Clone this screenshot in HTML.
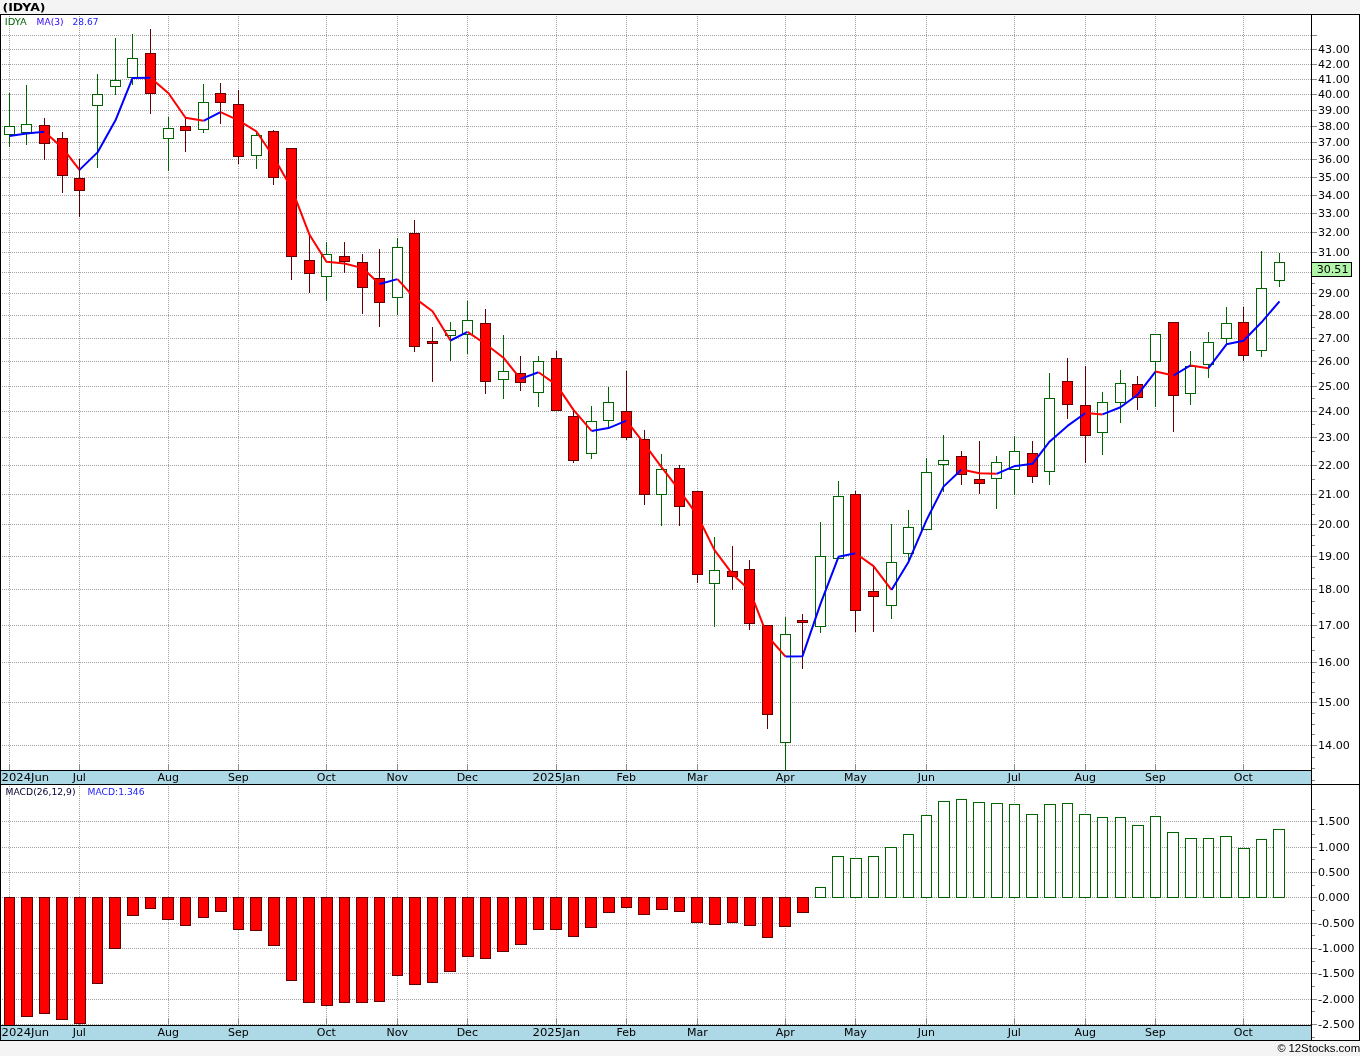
<!DOCTYPE html>
<html lang="en"><head><meta charset="utf-8"><title>(IDYA)</title>
<style>html,body{margin:0;padding:0;background:#f4f4f4;width:1360px;height:1056px;overflow:hidden}</style></head>
<body>
<svg width="1360" height="1056" viewBox="0 0 1360 1056" style="position:absolute;left:0;top:0;display:block">
<rect x="0" y="0" width="1360" height="1056" fill="#f4f4f4"/>
<rect x="0" y="14" width="1360" height="1027" fill="#ffffff"/>
<rect x="0" y="770" width="1312" height="15" fill="#add8e6"/>
<rect x="0" y="1025" width="1312" height="16" fill="#add8e6"/>
<g shape-rendering="crispEdges" fill="none" stroke="#a0a0a0" stroke-width="1" stroke-dasharray="1 1">
<path d="M2 745.5H1311"/>
<path d="M2 702.5H1311"/>
<path d="M2 662.5H1311"/>
<path d="M2 625.5H1311"/>
<path d="M2 589.5H1311"/>
<path d="M2 556.5H1311"/>
<path d="M2 524.5H1311"/>
<path d="M2 494.5H1311"/>
<path d="M2 465.5H1311"/>
<path d="M2 437.5H1311"/>
<path d="M2 411.5H1311"/>
<path d="M2 386.5H1311"/>
<path d="M2 361.5H1311"/>
<path d="M2 338.5H1311"/>
<path d="M2 315.5H1311"/>
<path d="M2 293.5H1311"/>
<path d="M2 272.5H1311"/>
<path d="M2 252.5H1311"/>
<path d="M2 232.5H1311"/>
<path d="M2 213.5H1311"/>
<path d="M2 195.5H1311"/>
<path d="M2 177.5H1311"/>
<path d="M2 159.5H1311"/>
<path d="M2 142.5H1311"/>
<path d="M2 126.5H1311"/>
<path d="M2 110.5H1311"/>
<path d="M2 94.5H1311"/>
<path d="M2 79.5H1311"/>
<path d="M2 64.5H1311"/>
<path d="M2 49.5H1311"/>
<path d="M2 35.5H1311"/>
<path d="M2 1024.5H1311"/>
<path d="M2 999.5H1311"/>
<path d="M2 973.5H1311"/>
<path d="M2 948.5H1311"/>
<path d="M2 923.5H1311"/>
<path d="M2 897.5H1311"/>
<path d="M2 872.5H1311"/>
<path d="M2 847.5H1311"/>
<path d="M2 821.5H1311"/>
<path d="M9.5 16V770"/>
<path d="M9.5 786V1025"/>
<path d="M79.5 16V770"/>
<path d="M79.5 786V1025"/>
<path d="M168.5 16V770"/>
<path d="M168.5 786V1025"/>
<path d="M238.5 16V770"/>
<path d="M238.5 786V1025"/>
<path d="M326.5 16V770"/>
<path d="M326.5 786V1025"/>
<path d="M397.5 16V770"/>
<path d="M397.5 786V1025"/>
<path d="M467.5 16V770"/>
<path d="M467.5 786V1025"/>
<path d="M556.5 16V770"/>
<path d="M556.5 786V1025"/>
<path d="M626.5 16V770"/>
<path d="M626.5 786V1025"/>
<path d="M697.5 16V770"/>
<path d="M697.5 786V1025"/>
<path d="M785.5 16V770"/>
<path d="M785.5 786V1025"/>
<path d="M855.5 16V770"/>
<path d="M855.5 786V1025"/>
<path d="M926.5 16V770"/>
<path d="M926.5 786V1025"/>
<path d="M1014.5 16V770"/>
<path d="M1014.5 786V1025"/>
<path d="M1085.5 16V770"/>
<path d="M1085.5 786V1025"/>
<path d="M1155.5 16V770"/>
<path d="M1155.5 786V1025"/>
<path d="M1243.5 16V770"/>
<path d="M1243.5 786V1025"/>
</g>
<g shape-rendering="crispEdges" fill="none" stroke="#8a8a8a" stroke-width="1">
<path d="M9.5 764V770M9.5 1019V1025"/>
<path d="M79.5 764V770M79.5 1019V1025"/>
<path d="M168.5 764V770M168.5 1019V1025"/>
<path d="M238.5 764V770M238.5 1019V1025"/>
<path d="M326.5 764V770M326.5 1019V1025"/>
<path d="M397.5 764V770M397.5 1019V1025"/>
<path d="M467.5 764V770M467.5 1019V1025"/>
<path d="M556.5 764V770M556.5 1019V1025"/>
<path d="M626.5 764V770M626.5 1019V1025"/>
<path d="M697.5 764V770M697.5 1019V1025"/>
<path d="M785.5 764V770M785.5 1019V1025"/>
<path d="M855.5 764V770M855.5 1019V1025"/>
<path d="M926.5 764V770M926.5 1019V1025"/>
<path d="M1014.5 764V770M1014.5 1019V1025"/>
<path d="M1085.5 764V770M1085.5 1019V1025"/>
<path d="M1155.5 764V770M1155.5 1019V1025"/>
<path d="M1243.5 764V770M1243.5 1019V1025"/>
<path d="M1312 745.5H1317"/>
<path d="M1312 702.5H1317"/>
<path d="M1312 662.5H1317"/>
<path d="M1312 625.5H1317"/>
<path d="M1312 589.5H1317"/>
<path d="M1312 556.5H1317"/>
<path d="M1312 524.5H1317"/>
<path d="M1312 494.5H1317"/>
<path d="M1312 465.5H1317"/>
<path d="M1312 437.5H1317"/>
<path d="M1312 411.5H1317"/>
<path d="M1312 386.5H1317"/>
<path d="M1312 361.5H1317"/>
<path d="M1312 338.5H1317"/>
<path d="M1312 315.5H1317"/>
<path d="M1312 293.5H1317"/>
<path d="M1312 272.5H1317"/>
<path d="M1312 252.5H1317"/>
<path d="M1312 232.5H1317"/>
<path d="M1312 213.5H1317"/>
<path d="M1312 195.5H1317"/>
<path d="M1312 177.5H1317"/>
<path d="M1312 159.5H1317"/>
<path d="M1312 142.5H1317"/>
<path d="M1312 126.5H1317"/>
<path d="M1312 110.5H1317"/>
<path d="M1312 94.5H1317"/>
<path d="M1312 79.5H1317"/>
<path d="M1312 64.5H1317"/>
<path d="M1312 49.5H1317"/>
<path d="M1312 35.5H1317"/>
<path d="M1312 479.5H1315"/>
<path d="M1312 451.5H1315"/>
<path d="M1312 424.5H1315"/>
<path d="M1312 398.5H1315"/>
<path d="M1312 373.5H1315"/>
<path d="M1312 350.5H1315"/>
<path d="M1312 327.5H1315"/>
<path d="M1312 305.5H1315"/>
<path d="M1312 283.5H1315"/>
<path d="M1312 650.5H1315"/>
<path d="M1312 637.5H1315"/>
<path d="M1312 613.5H1315"/>
<path d="M1312 601.5H1315"/>
<path d="M1312 578.5H1315"/>
<path d="M1312 567.5H1315"/>
<path d="M1312 545.5H1315"/>
<path d="M1312 535.5H1315"/>
<path d="M1312 514.5H1315"/>
<path d="M1312 504.5H1315"/>
<path d="M1312 780.5H1315"/>
<path d="M1312 768.5H1315"/>
<path d="M1312 757.5H1315"/>
<path d="M1312 734.5H1315"/>
<path d="M1312 724.5H1315"/>
<path d="M1312 713.5H1315"/>
<path d="M1312 692.5H1315"/>
<path d="M1312 682.5H1315"/>
<path d="M1312 672.5H1315"/>
<path d="M1312 1024.5H1317"/>
<path d="M1312 999.5H1317"/>
<path d="M1312 973.5H1317"/>
<path d="M1312 948.5H1317"/>
<path d="M1312 923.5H1317"/>
<path d="M1312 897.5H1317"/>
<path d="M1312 872.5H1317"/>
<path d="M1312 847.5H1317"/>
<path d="M1312 821.5H1317"/>
<path d="M1312 1037.5H1315"/>
<path d="M1312 1011.5H1315"/>
<path d="M1312 986.5H1315"/>
<path d="M1312 961.5H1315"/>
<path d="M1312 935.5H1315"/>
<path d="M1312 910.5H1315"/>
<path d="M1312 885.5H1315"/>
<path d="M1312 859.5H1315"/>
<path d="M1312 834.5H1315"/>
<path d="M1312 809.5H1315"/>
</g>
<g shape-rendering="crispEdges" stroke-width="1">
<path d="M9.5 93V147" stroke="#006400" fill="none"/>
<rect x="4.5" y="126.5" width="10" height="8" fill="#ffffff" stroke="#006400"/>
<path d="M26.5 85V145" stroke="#006400" fill="none"/>
<rect x="21.5" y="124.5" width="10" height="8" fill="#ffffff" stroke="#006400"/>
<path d="M44.5 118V160" stroke="#600000" fill="none"/>
<rect x="39.5" y="125.5" width="10" height="18" fill="#ff0000" stroke="#600000"/>
<path d="M62.5 132V193" stroke="#600000" fill="none"/>
<rect x="57.5" y="138.5" width="10" height="37" fill="#ff0000" stroke="#600000"/>
<path d="M79.5 159V217" stroke="#600000" fill="none"/>
<rect x="74.5" y="178.5" width="10" height="12" fill="#ff0000" stroke="#600000"/>
<path d="M97.5 74V168" stroke="#006400" fill="none"/>
<rect x="92.5" y="94.5" width="10" height="11" fill="#ffffff" stroke="#006400"/>
<path d="M115.5 38V95" stroke="#006400" fill="none"/>
<rect x="110.5" y="80.5" width="10" height="6" fill="#ffffff" stroke="#006400"/>
<path d="M132.5 34V85" stroke="#006400" fill="none"/>
<rect x="127.5" y="58.5" width="10" height="19" fill="#ffffff" stroke="#006400"/>
<path d="M150.5 29V114" stroke="#600000" fill="none"/>
<rect x="145.5" y="53.5" width="10" height="40" fill="#ff0000" stroke="#600000"/>
<path d="M168.5 117V171" stroke="#006400" fill="none"/>
<rect x="163.5" y="128.5" width="10" height="10" fill="#ffffff" stroke="#006400"/>
<path d="M185.5 117V152" stroke="#600000" fill="none"/>
<rect x="180.5" y="126.5" width="10" height="4" fill="#ff0000" stroke="#600000"/>
<path d="M203.5 84V133" stroke="#006400" fill="none"/>
<rect x="198.5" y="102.5" width="10" height="27" fill="#ffffff" stroke="#006400"/>
<path d="M220.5 83V124" stroke="#600000" fill="none"/>
<rect x="215.5" y="93.5" width="10" height="9" fill="#ff0000" stroke="#600000"/>
<path d="M238.5 90V164" stroke="#600000" fill="none"/>
<rect x="233.5" y="104.5" width="10" height="52" fill="#ff0000" stroke="#600000"/>
<path d="M256.5 133V169" stroke="#006400" fill="none"/>
<rect x="251.5" y="135.5" width="10" height="20" fill="#ffffff" stroke="#006400"/>
<path d="M273.5 130V185" stroke="#600000" fill="none"/>
<rect x="268.5" y="131.5" width="10" height="46" fill="#ff0000" stroke="#600000"/>
<path d="M291.5 148V280" stroke="#600000" fill="none"/>
<rect x="286.5" y="148.5" width="10" height="108" fill="#ff0000" stroke="#600000"/>
<path d="M309.5 236V293" stroke="#600000" fill="none"/>
<rect x="304.5" y="260.5" width="10" height="13" fill="#ff0000" stroke="#600000"/>
<path d="M326.5 242V301" stroke="#006400" fill="none"/>
<rect x="321.5" y="254.5" width="10" height="22" fill="#ffffff" stroke="#006400"/>
<path d="M344.5 242V273" stroke="#600000" fill="none"/>
<rect x="339.5" y="256.5" width="10" height="5" fill="#ff0000" stroke="#600000"/>
<path d="M362.5 254V314" stroke="#600000" fill="none"/>
<rect x="357.5" y="262.5" width="10" height="25" fill="#ff0000" stroke="#600000"/>
<path d="M379.5 249V327" stroke="#600000" fill="none"/>
<rect x="374.5" y="278.5" width="10" height="24" fill="#ff0000" stroke="#600000"/>
<path d="M397.5 238V315" stroke="#006400" fill="none"/>
<rect x="392.5" y="247.5" width="10" height="50" fill="#ffffff" stroke="#006400"/>
<path d="M414.5 220V352" stroke="#600000" fill="none"/>
<rect x="409.5" y="233.5" width="10" height="113" fill="#ff0000" stroke="#600000"/>
<path d="M432.5 327V382" stroke="#600000" fill="none"/>
<rect x="427.5" y="341.5" width="10" height="2" fill="#ff0000" stroke="#600000"/>
<path d="M450.5 322V361" stroke="#006400" fill="none"/>
<rect x="445.5" y="330.5" width="10" height="5" fill="#ffffff" stroke="#006400"/>
<path d="M467.5 301V354" stroke="#006400" fill="none"/>
<rect x="462.5" y="320.5" width="10" height="14" fill="#ffffff" stroke="#006400"/>
<path d="M485.5 309V394" stroke="#600000" fill="none"/>
<rect x="480.5" y="323.5" width="10" height="58" fill="#ff0000" stroke="#600000"/>
<path d="M503.5 335V399" stroke="#006400" fill="none"/>
<rect x="498.5" y="371.5" width="10" height="8" fill="#ffffff" stroke="#006400"/>
<path d="M520.5 356V391" stroke="#600000" fill="none"/>
<rect x="515.5" y="373.5" width="10" height="9" fill="#ff0000" stroke="#600000"/>
<path d="M538.5 356V407" stroke="#006400" fill="none"/>
<rect x="533.5" y="361.5" width="10" height="31" fill="#ffffff" stroke="#006400"/>
<path d="M556.5 351V411" stroke="#600000" fill="none"/>
<rect x="551.5" y="358.5" width="10" height="52" fill="#ff0000" stroke="#600000"/>
<path d="M573.5 411V463" stroke="#600000" fill="none"/>
<rect x="568.5" y="416.5" width="10" height="44" fill="#ff0000" stroke="#600000"/>
<path d="M591.5 406V459" stroke="#006400" fill="none"/>
<rect x="586.5" y="421.5" width="10" height="32" fill="#ffffff" stroke="#006400"/>
<path d="M608.5 387V428" stroke="#006400" fill="none"/>
<rect x="603.5" y="402.5" width="10" height="18" fill="#ffffff" stroke="#006400"/>
<path d="M626.5 371V440" stroke="#600000" fill="none"/>
<rect x="621.5" y="411.5" width="10" height="26" fill="#ff0000" stroke="#600000"/>
<path d="M644.5 430V505" stroke="#600000" fill="none"/>
<rect x="639.5" y="439.5" width="10" height="55" fill="#ff0000" stroke="#600000"/>
<path d="M661.5 454V526" stroke="#006400" fill="none"/>
<rect x="656.5" y="469.5" width="10" height="25" fill="#ffffff" stroke="#006400"/>
<path d="M679.5 465V526" stroke="#600000" fill="none"/>
<rect x="674.5" y="468.5" width="10" height="38" fill="#ff0000" stroke="#600000"/>
<path d="M697.5 491V583" stroke="#600000" fill="none"/>
<rect x="692.5" y="491.5" width="10" height="83" fill="#ff0000" stroke="#600000"/>
<path d="M714.5 537V627" stroke="#006400" fill="none"/>
<rect x="709.5" y="570.5" width="10" height="13" fill="#ffffff" stroke="#006400"/>
<path d="M732.5 546V590" stroke="#600000" fill="none"/>
<rect x="727.5" y="571.5" width="10" height="5" fill="#ff0000" stroke="#600000"/>
<path d="M749.5 560V630" stroke="#600000" fill="none"/>
<rect x="744.5" y="569.5" width="10" height="54" fill="#ff0000" stroke="#600000"/>
<path d="M767.5 625V729" stroke="#600000" fill="none"/>
<rect x="762.5" y="625.5" width="10" height="89" fill="#ff0000" stroke="#600000"/>
<path d="M785.5 617V770" stroke="#006400" fill="none"/>
<rect x="780.5" y="634.5" width="10" height="108" fill="#ffffff" stroke="#006400"/>
<path d="M802.5 614V669" stroke="#600000" fill="none"/>
<rect x="797.5" y="620.5" width="10" height="2" fill="#ff0000" stroke="#600000"/>
<path d="M820.5 522V633" stroke="#006400" fill="none"/>
<rect x="815.5" y="556.5" width="10" height="70" fill="#ffffff" stroke="#006400"/>
<path d="M838.5 481V559" stroke="#006400" fill="none"/>
<rect x="833.5" y="496.5" width="10" height="62" fill="#ffffff" stroke="#006400"/>
<path d="M855.5 491V632" stroke="#600000" fill="none"/>
<rect x="850.5" y="494.5" width="10" height="116" fill="#ff0000" stroke="#600000"/>
<path d="M873.5 566V632" stroke="#600000" fill="none"/>
<rect x="868.5" y="591.5" width="10" height="5" fill="#ff0000" stroke="#600000"/>
<path d="M891.5 524V619" stroke="#006400" fill="none"/>
<rect x="886.5" y="562.5" width="10" height="43" fill="#ffffff" stroke="#006400"/>
<path d="M908.5 510V562" stroke="#006400" fill="none"/>
<rect x="903.5" y="527.5" width="10" height="26" fill="#ffffff" stroke="#006400"/>
<path d="M926.5 458V530" stroke="#006400" fill="none"/>
<rect x="921.5" y="472.5" width="10" height="57" fill="#ffffff" stroke="#006400"/>
<path d="M943.5 435V492" stroke="#006400" fill="none"/>
<rect x="938.5" y="460.5" width="10" height="4" fill="#ffffff" stroke="#006400"/>
<path d="M961.5 451V485" stroke="#600000" fill="none"/>
<rect x="956.5" y="456.5" width="10" height="18" fill="#ff0000" stroke="#600000"/>
<path d="M979.5 441V494" stroke="#600000" fill="none"/>
<rect x="974.5" y="479.5" width="10" height="4" fill="#ff0000" stroke="#600000"/>
<path d="M996.5 456V509" stroke="#006400" fill="none"/>
<rect x="991.5" y="462.5" width="10" height="16" fill="#ffffff" stroke="#006400"/>
<path d="M1014.5 436V495" stroke="#006400" fill="none"/>
<rect x="1009.5" y="451.5" width="10" height="18" fill="#ffffff" stroke="#006400"/>
<path d="M1032.5 441V483" stroke="#600000" fill="none"/>
<rect x="1027.5" y="453.5" width="10" height="23" fill="#ff0000" stroke="#600000"/>
<path d="M1049.5 373V485" stroke="#006400" fill="none"/>
<rect x="1044.5" y="398.5" width="10" height="73" fill="#ffffff" stroke="#006400"/>
<path d="M1067.5 358V419" stroke="#600000" fill="none"/>
<rect x="1062.5" y="381.5" width="10" height="23" fill="#ff0000" stroke="#600000"/>
<path d="M1085.5 366V463" stroke="#600000" fill="none"/>
<rect x="1080.5" y="405.5" width="10" height="30" fill="#ff0000" stroke="#600000"/>
<path d="M1102.5 392V455" stroke="#006400" fill="none"/>
<rect x="1097.5" y="402.5" width="10" height="30" fill="#ffffff" stroke="#006400"/>
<path d="M1120.5 370V423" stroke="#006400" fill="none"/>
<rect x="1115.5" y="383.5" width="10" height="19" fill="#ffffff" stroke="#006400"/>
<path d="M1137.5 376V410" stroke="#600000" fill="none"/>
<rect x="1132.5" y="384.5" width="10" height="13" fill="#ff0000" stroke="#600000"/>
<path d="M1155.5 334V407" stroke="#006400" fill="none"/>
<rect x="1150.5" y="334.5" width="10" height="27" fill="#ffffff" stroke="#006400"/>
<path d="M1173.5 322V432" stroke="#600000" fill="none"/>
<rect x="1168.5" y="322.5" width="10" height="73" fill="#ff0000" stroke="#600000"/>
<path d="M1190.5 351V405" stroke="#006400" fill="none"/>
<rect x="1185.5" y="366.5" width="10" height="27" fill="#ffffff" stroke="#006400"/>
<path d="M1208.5 332V378" stroke="#006400" fill="none"/>
<rect x="1203.5" y="342.5" width="10" height="22" fill="#ffffff" stroke="#006400"/>
<path d="M1226.5 307V344" stroke="#006400" fill="none"/>
<rect x="1221.5" y="323.5" width="10" height="15" fill="#ffffff" stroke="#006400"/>
<path d="M1243.5 307V361" stroke="#600000" fill="none"/>
<rect x="1238.5" y="322.5" width="10" height="33" fill="#ff0000" stroke="#600000"/>
<path d="M1261.5 251V357" stroke="#006400" fill="none"/>
<rect x="1256.5" y="288.5" width="10" height="62" fill="#ffffff" stroke="#006400"/>
<path d="M1279.5 253V287" stroke="#006400" fill="none"/>
<rect x="1274.5" y="262.5" width="10" height="18" fill="#ffffff" stroke="#006400"/>
</g>
<g shape-rendering="crispEdges" stroke-width="1">
<rect x="4.5" y="897.5" width="10" height="128.0" fill="#ff0000" stroke="#600000"/>
<rect x="21.5" y="897.5" width="11" height="119.0" fill="#ff0000" stroke="#600000"/>
<rect x="39.5" y="897.5" width="10" height="116.0" fill="#ff0000" stroke="#600000"/>
<rect x="56.5" y="897.5" width="11" height="122.0" fill="#ff0000" stroke="#600000"/>
<rect x="74.5" y="897.5" width="11" height="126.0" fill="#ff0000" stroke="#600000"/>
<rect x="92.5" y="897.5" width="10" height="86.0" fill="#ff0000" stroke="#600000"/>
<rect x="109.5" y="897.5" width="11" height="51.0" fill="#ff0000" stroke="#600000"/>
<rect x="127.5" y="897.5" width="11" height="18.0" fill="#ff0000" stroke="#600000"/>
<rect x="145.5" y="897.5" width="10" height="11.0" fill="#ff0000" stroke="#600000"/>
<rect x="162.5" y="897.5" width="11" height="22.0" fill="#ff0000" stroke="#600000"/>
<rect x="180.5" y="897.5" width="10" height="28.0" fill="#ff0000" stroke="#600000"/>
<rect x="198.5" y="897.5" width="10" height="20.0" fill="#ff0000" stroke="#600000"/>
<rect x="215.5" y="897.5" width="11" height="14.0" fill="#ff0000" stroke="#600000"/>
<rect x="233.5" y="897.5" width="10" height="32.0" fill="#ff0000" stroke="#600000"/>
<rect x="250.5" y="897.5" width="11" height="33.0" fill="#ff0000" stroke="#600000"/>
<rect x="268.5" y="897.5" width="11" height="48.0" fill="#ff0000" stroke="#600000"/>
<rect x="286.5" y="897.5" width="10" height="83.0" fill="#ff0000" stroke="#600000"/>
<rect x="303.5" y="897.5" width="11" height="105.0" fill="#ff0000" stroke="#600000"/>
<rect x="321.5" y="897.5" width="11" height="108.0" fill="#ff0000" stroke="#600000"/>
<rect x="339.5" y="897.5" width="10" height="105.0" fill="#ff0000" stroke="#600000"/>
<rect x="356.5" y="897.5" width="11" height="105.0" fill="#ff0000" stroke="#600000"/>
<rect x="374.5" y="897.5" width="10" height="104.0" fill="#ff0000" stroke="#600000"/>
<rect x="392.5" y="897.5" width="10" height="78.0" fill="#ff0000" stroke="#600000"/>
<rect x="409.5" y="897.5" width="11" height="87.0" fill="#ff0000" stroke="#600000"/>
<rect x="427.5" y="897.5" width="10" height="85.0" fill="#ff0000" stroke="#600000"/>
<rect x="444.5" y="897.5" width="11" height="74.0" fill="#ff0000" stroke="#600000"/>
<rect x="462.5" y="897.5" width="11" height="59.0" fill="#ff0000" stroke="#600000"/>
<rect x="480.5" y="897.5" width="10" height="61.0" fill="#ff0000" stroke="#600000"/>
<rect x="497.5" y="897.5" width="11" height="54.0" fill="#ff0000" stroke="#600000"/>
<rect x="515.5" y="897.5" width="11" height="47.0" fill="#ff0000" stroke="#600000"/>
<rect x="533.5" y="897.5" width="10" height="32.0" fill="#ff0000" stroke="#600000"/>
<rect x="550.5" y="897.5" width="11" height="32.0" fill="#ff0000" stroke="#600000"/>
<rect x="568.5" y="897.5" width="10" height="39.0" fill="#ff0000" stroke="#600000"/>
<rect x="585.5" y="897.5" width="11" height="30.0" fill="#ff0000" stroke="#600000"/>
<rect x="603.5" y="897.5" width="11" height="15.0" fill="#ff0000" stroke="#600000"/>
<rect x="621.5" y="897.5" width="10" height="10.0" fill="#ff0000" stroke="#600000"/>
<rect x="638.5" y="897.5" width="11" height="17.0" fill="#ff0000" stroke="#600000"/>
<rect x="656.5" y="897.5" width="11" height="12.0" fill="#ff0000" stroke="#600000"/>
<rect x="674.5" y="897.5" width="10" height="14.0" fill="#ff0000" stroke="#600000"/>
<rect x="691.5" y="897.5" width="11" height="25.0" fill="#ff0000" stroke="#600000"/>
<rect x="709.5" y="897.5" width="11" height="27.0" fill="#ff0000" stroke="#600000"/>
<rect x="727.5" y="897.5" width="10" height="25.0" fill="#ff0000" stroke="#600000"/>
<rect x="744.5" y="897.5" width="11" height="28.0" fill="#ff0000" stroke="#600000"/>
<rect x="762.5" y="897.5" width="10" height="40.0" fill="#ff0000" stroke="#600000"/>
<rect x="779.5" y="897.5" width="11" height="29.0" fill="#ff0000" stroke="#600000"/>
<rect x="797.5" y="897.5" width="11" height="15.0" fill="#ff0000" stroke="#600000"/>
<rect x="815.5" y="887.5" width="10" height="10.0" fill="#ffffff" stroke="#006400"/>
<rect x="832.5" y="856.5" width="11" height="41.0" fill="#ffffff" stroke="#006400"/>
<rect x="850.5" y="858.5" width="11" height="39.0" fill="#ffffff" stroke="#006400"/>
<rect x="868.5" y="856.5" width="10" height="41.0" fill="#ffffff" stroke="#006400"/>
<rect x="885.5" y="847.5" width="11" height="50.0" fill="#ffffff" stroke="#006400"/>
<rect x="903.5" y="834.5" width="10" height="63.0" fill="#ffffff" stroke="#006400"/>
<rect x="921.5" y="815.5" width="10" height="82.0" fill="#ffffff" stroke="#006400"/>
<rect x="938.5" y="801.5" width="11" height="96.0" fill="#ffffff" stroke="#006400"/>
<rect x="956.5" y="799.5" width="10" height="98.0" fill="#ffffff" stroke="#006400"/>
<rect x="973.5" y="802.5" width="11" height="95.0" fill="#ffffff" stroke="#006400"/>
<rect x="991.5" y="803.5" width="11" height="94.0" fill="#ffffff" stroke="#006400"/>
<rect x="1009.5" y="804.5" width="10" height="93.0" fill="#ffffff" stroke="#006400"/>
<rect x="1026.5" y="814.5" width="11" height="83.0" fill="#ffffff" stroke="#006400"/>
<rect x="1044.5" y="804.5" width="11" height="93.0" fill="#ffffff" stroke="#006400"/>
<rect x="1062.5" y="803.5" width="10" height="94.0" fill="#ffffff" stroke="#006400"/>
<rect x="1079.5" y="814.5" width="11" height="83.0" fill="#ffffff" stroke="#006400"/>
<rect x="1097.5" y="817.5" width="10" height="80.0" fill="#ffffff" stroke="#006400"/>
<rect x="1115.5" y="817.5" width="10" height="80.0" fill="#ffffff" stroke="#006400"/>
<rect x="1132.5" y="825.5" width="11" height="72.0" fill="#ffffff" stroke="#006400"/>
<rect x="1150.5" y="816.5" width="10" height="81.0" fill="#ffffff" stroke="#006400"/>
<rect x="1167.5" y="832.5" width="11" height="65.0" fill="#ffffff" stroke="#006400"/>
<rect x="1185.5" y="838.5" width="11" height="59.0" fill="#ffffff" stroke="#006400"/>
<rect x="1203.5" y="838.5" width="10" height="59.0" fill="#ffffff" stroke="#006400"/>
<rect x="1220.5" y="836.5" width="11" height="61.0" fill="#ffffff" stroke="#006400"/>
<rect x="1238.5" y="848.5" width="11" height="49.0" fill="#ffffff" stroke="#006400"/>
<rect x="1256.5" y="839.5" width="10" height="58.0" fill="#ffffff" stroke="#006400"/>
<rect x="1273.5" y="829.5" width="11" height="68.0" fill="#ffffff" stroke="#006400"/>
</g>
<g fill="none" stroke-width="2" stroke-linejoin="round" stroke-linecap="butt">
<polyline points="9.5,136.0 26.5,133.4 44.5,131.8" stroke="#0000ff"/>
<polyline points="44.5,131.8 62.5,147.9 79.5,169.9" stroke="#ff0000"/>
<polyline points="79.5,169.9 97.5,152.4 115.5,120.3 132.5,78.1 150.5,77.7" stroke="#0000ff"/>
<polyline points="150.5,77.7 168.5,93.2 185.5,117.7 203.5,120.8" stroke="#ff0000"/>
<polyline points="203.5,120.8 220.5,112.1" stroke="#0000ff"/>
<polyline points="220.5,112.1 238.5,120.4 256.5,131.5 273.5,156.7 291.5,188.2 309.5,234.8 326.5,261.8 344.5,263.5 362.5,268.1 379.5,284.0" stroke="#ff0000"/>
<polyline points="379.5,284.0 397.5,279.1" stroke="#0000ff"/>
<polyline points="397.5,279.1 414.5,297.9 432.5,311.2 450.5,340.5" stroke="#ff0000"/>
<polyline points="450.5,340.5 467.5,331.8" stroke="#0000ff"/>
<polyline points="467.5,331.8 485.5,344.0 503.5,357.7 520.5,378.9" stroke="#ff0000"/>
<polyline points="520.5,378.9 538.5,372.2" stroke="#0000ff"/>
<polyline points="538.5,372.2 556.5,384.9 573.5,409.9 591.5,430.9" stroke="#ff0000"/>
<polyline points="591.5,430.9 608.5,428.1 626.5,420.7" stroke="#0000ff"/>
<polyline points="626.5,420.7 644.5,444.1 661.5,467.1 679.5,490.4 697.5,515.7 714.5,550.1 732.5,574.2 749.5,590.1 767.5,636.0 785.5,656.6" stroke="#ff0000"/>
<polyline points="785.5,656.6 802.5,656.2 820.5,603.9 838.5,556.8 855.5,553.2" stroke="#0000ff"/>
<polyline points="855.5,553.2 873.5,566.1 891.5,589.9" stroke="#ff0000"/>
<polyline points="891.5,589.9 908.5,561.9 926.5,520.1 943.5,486.6 961.5,469.5" stroke="#0000ff"/>
<polyline points="961.5,469.5 979.5,473.2 996.5,473.8" stroke="#ff0000"/>
<polyline points="996.5,473.8 1014.5,466.1 1032.5,463.8 1049.5,441.7 1067.5,425.9 1085.5,413.0" stroke="#0000ff"/>
<polyline points="1085.5,413.0 1102.5,414.4" stroke="#ff0000"/>
<polyline points="1102.5,414.4 1120.5,407.2 1137.5,394.8 1155.5,371.6" stroke="#0000ff"/>
<polyline points="1155.5,371.6 1173.5,375.5" stroke="#ff0000"/>
<polyline points="1173.5,375.5 1190.5,365.4" stroke="#0000ff"/>
<polyline points="1190.5,365.4 1208.5,368.2" stroke="#ff0000"/>
<polyline points="1208.5,368.2 1226.5,344.3 1243.5,340.8 1261.5,322.3 1279.5,301.3" stroke="#0000ff"/>
</g>
<g shape-rendering="crispEdges" fill="none" stroke="#000" stroke-width="1">
<path d="M0 14.5H1360"/>
<path d="M0.5 14V1041"/>
<path d="M1359.5 14V1041"/>
<path d="M0 1040.5H1360"/>
<path d="M1311.5 14V1041"/>
<path d="M0 770.5H1312"/>
<path d="M0 784.5H1360"/>
<path d="M0 1025.5H1312"/>
</g>
<rect x="1311.5" y="262.5" width="40" height="14" fill="#b0f5a8" stroke="#000" stroke-width="1" shape-rendering="crispEdges"/>
<g font-family="DejaVu Sans, Verdana, sans-serif" font-size="11" fill="#000">
<text x="2.5" y="11" font-weight="bold" textLength="43" lengthAdjust="spacingAndGlyphs">(IDYA)</text>
<text x="1318" y="749.0" textLength="31.8" lengthAdjust="spacingAndGlyphs">14.00</text>
<text x="1318" y="706.0" textLength="31.8" lengthAdjust="spacingAndGlyphs">15.00</text>
<text x="1318" y="666.0" textLength="31.8" lengthAdjust="spacingAndGlyphs">16.00</text>
<text x="1318" y="629.0" textLength="31.8" lengthAdjust="spacingAndGlyphs">17.00</text>
<text x="1318" y="593.0" textLength="31.8" lengthAdjust="spacingAndGlyphs">18.00</text>
<text x="1318" y="560.0" textLength="31.8" lengthAdjust="spacingAndGlyphs">19.00</text>
<text x="1318" y="528.0" textLength="31.8" lengthAdjust="spacingAndGlyphs">20.00</text>
<text x="1318" y="498.0" textLength="31.8" lengthAdjust="spacingAndGlyphs">21.00</text>
<text x="1318" y="469.0" textLength="31.8" lengthAdjust="spacingAndGlyphs">22.00</text>
<text x="1318" y="441.0" textLength="31.8" lengthAdjust="spacingAndGlyphs">23.00</text>
<text x="1318" y="415.0" textLength="31.8" lengthAdjust="spacingAndGlyphs">24.00</text>
<text x="1318" y="390.0" textLength="31.8" lengthAdjust="spacingAndGlyphs">25.00</text>
<text x="1318" y="365.0" textLength="31.8" lengthAdjust="spacingAndGlyphs">26.00</text>
<text x="1318" y="342.0" textLength="31.8" lengthAdjust="spacingAndGlyphs">27.00</text>
<text x="1318" y="319.0" textLength="31.8" lengthAdjust="spacingAndGlyphs">28.00</text>
<text x="1318" y="297.0" textLength="31.8" lengthAdjust="spacingAndGlyphs">29.00</text>
<text x="1318" y="256.0" textLength="31.8" lengthAdjust="spacingAndGlyphs">31.00</text>
<text x="1318" y="236.0" textLength="31.8" lengthAdjust="spacingAndGlyphs">32.00</text>
<text x="1318" y="217.0" textLength="31.8" lengthAdjust="spacingAndGlyphs">33.00</text>
<text x="1318" y="199.0" textLength="31.8" lengthAdjust="spacingAndGlyphs">34.00</text>
<text x="1318" y="181.0" textLength="31.8" lengthAdjust="spacingAndGlyphs">35.00</text>
<text x="1318" y="163.0" textLength="31.8" lengthAdjust="spacingAndGlyphs">36.00</text>
<text x="1318" y="146.0" textLength="31.8" lengthAdjust="spacingAndGlyphs">37.00</text>
<text x="1318" y="130.0" textLength="31.8" lengthAdjust="spacingAndGlyphs">38.00</text>
<text x="1318" y="114.0" textLength="31.8" lengthAdjust="spacingAndGlyphs">39.00</text>
<text x="1318" y="98.0" textLength="31.8" lengthAdjust="spacingAndGlyphs">40.00</text>
<text x="1318" y="83.0" textLength="31.8" lengthAdjust="spacingAndGlyphs">41.00</text>
<text x="1318" y="68.0" textLength="31.8" lengthAdjust="spacingAndGlyphs">42.00</text>
<text x="1318" y="53.0" textLength="31.8" lengthAdjust="spacingAndGlyphs">43.00</text>
<text x="1316.7" y="272.7" textLength="31.8" lengthAdjust="spacingAndGlyphs">30.51</text>
<text x="1318" y="1028.0" textLength="36.6" lengthAdjust="spacingAndGlyphs">-2.500</text>
<text x="1318" y="1003.0" textLength="36.6" lengthAdjust="spacingAndGlyphs">-2.000</text>
<text x="1318" y="977.0" textLength="36.6" lengthAdjust="spacingAndGlyphs">-1.500</text>
<text x="1318" y="952.0" textLength="36.6" lengthAdjust="spacingAndGlyphs">-1.000</text>
<text x="1318" y="927.0" textLength="36.6" lengthAdjust="spacingAndGlyphs">-0.500</text>
<text x="1318" y="901.0" textLength="31.8" lengthAdjust="spacingAndGlyphs">0.000</text>
<text x="1318" y="876.0" textLength="31.8" lengthAdjust="spacingAndGlyphs">0.500</text>
<text x="1318" y="851.0" textLength="31.8" lengthAdjust="spacingAndGlyphs">1.000</text>
<text x="1318" y="825.0" textLength="31.8" lengthAdjust="spacingAndGlyphs">1.500</text>
<text x="1.6" y="781" textLength="47.5" lengthAdjust="spacingAndGlyphs">2024Jun</text>
<text x="79.3" y="781" text-anchor="middle">Jul</text>
<text x="168.3" y="781" text-anchor="middle">Aug</text>
<text x="238.3" y="781" text-anchor="middle">Sep</text>
<text x="326.3" y="781" text-anchor="middle">Oct</text>
<text x="397.3" y="781" text-anchor="middle">Nov</text>
<text x="467.3" y="781" text-anchor="middle">Dec</text>
<text x="556.3" y="781" text-anchor="middle" textLength="47.5" lengthAdjust="spacingAndGlyphs">2025Jan</text>
<text x="626.3" y="781" text-anchor="middle">Feb</text>
<text x="697.3" y="781" text-anchor="middle">Mar</text>
<text x="785.3" y="781" text-anchor="middle">Apr</text>
<text x="855.3" y="781" text-anchor="middle">May</text>
<text x="926.3" y="781" text-anchor="middle">Jun</text>
<text x="1014.3" y="781" text-anchor="middle">Jul</text>
<text x="1085.3" y="781" text-anchor="middle">Aug</text>
<text x="1155.3" y="781" text-anchor="middle">Sep</text>
<text x="1243.3" y="781" text-anchor="middle">Oct</text>
<text x="1.6" y="1036" textLength="47.5" lengthAdjust="spacingAndGlyphs">2024Jun</text>
<text x="79.3" y="1036" text-anchor="middle">Jul</text>
<text x="168.3" y="1036" text-anchor="middle">Aug</text>
<text x="238.3" y="1036" text-anchor="middle">Sep</text>
<text x="326.3" y="1036" text-anchor="middle">Oct</text>
<text x="397.3" y="1036" text-anchor="middle">Nov</text>
<text x="467.3" y="1036" text-anchor="middle">Dec</text>
<text x="556.3" y="1036" text-anchor="middle" textLength="47.5" lengthAdjust="spacingAndGlyphs">2025Jan</text>
<text x="626.3" y="1036" text-anchor="middle">Feb</text>
<text x="697.3" y="1036" text-anchor="middle">Mar</text>
<text x="785.3" y="1036" text-anchor="middle">Apr</text>
<text x="855.3" y="1036" text-anchor="middle">May</text>
<text x="926.3" y="1036" text-anchor="middle">Jun</text>
<text x="1014.3" y="1036" text-anchor="middle">Jul</text>
<text x="1085.3" y="1036" text-anchor="middle">Aug</text>
<text x="1155.3" y="1036" text-anchor="middle">Sep</text>
<text x="1243.3" y="1036" text-anchor="middle">Oct</text>
</g>
<g font-family="DejaVu Sans, Verdana, sans-serif" font-size="9">
<text x="4.8" y="25" fill="#006400" textLength="22" lengthAdjust="spacingAndGlyphs">IDYA</text>
<text x="36.6" y="25" fill="#3300ff" textLength="27" lengthAdjust="spacingAndGlyphs">MA(3)</text>
<text x="72.6" y="25" fill="#1a1aff" textLength="25.8" lengthAdjust="spacingAndGlyphs">28.67</text>
<text x="5.5" y="795" fill="#000030" textLength="70" lengthAdjust="spacingAndGlyphs">MACD(26,12,9)</text>
<text x="87.5" y="795" fill="#1a1aff" textLength="57" lengthAdjust="spacingAndGlyphs">MACD:1.346</text>
</g>
<text y="1051.5" font-family="Liberation Sans, Arial, sans-serif" font-size="11" fill="#000"><tspan x="1277.4">©</tspan><tspan x="1288.4" textLength="71.8" lengthAdjust="spacingAndGlyphs">12Stocks.com</tspan></text>
</svg>
</body></html>
